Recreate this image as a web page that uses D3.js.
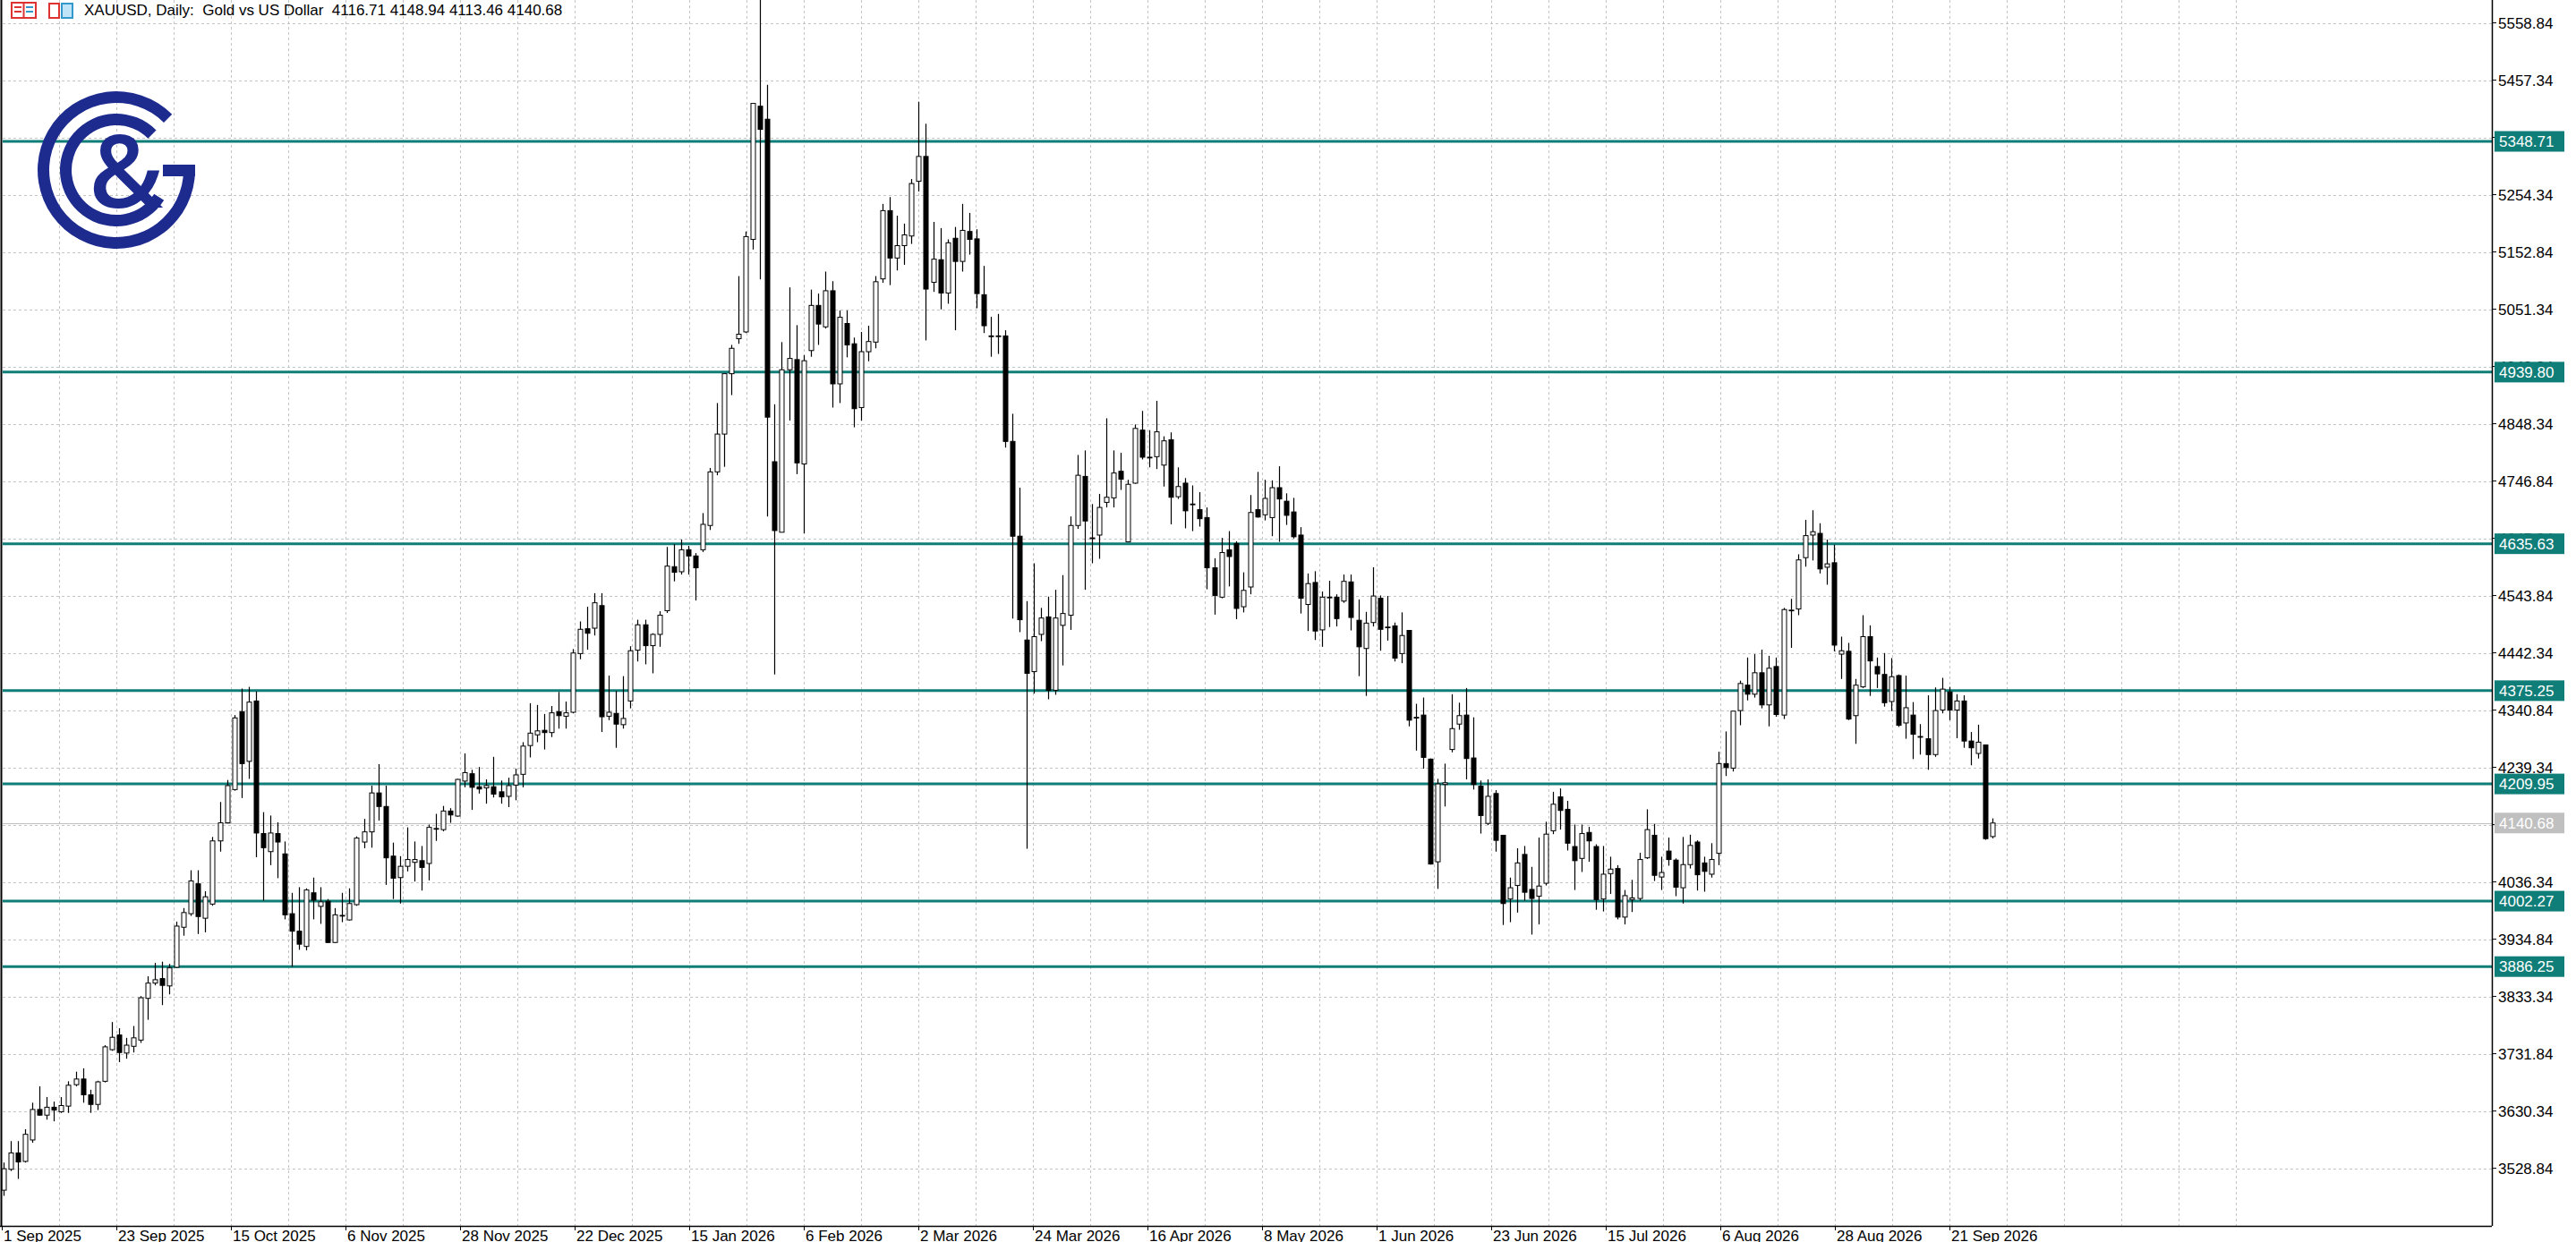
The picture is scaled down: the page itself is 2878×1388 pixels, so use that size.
<!DOCTYPE html>
<html><head><meta charset="utf-8">
<script src="https://cdnjs.cloudflare.com/ajax/libs/d3/7.8.5/d3.min.js"></script>
<style>body{margin:0;background:#fff}svg{display:block}text{font-family:"Liberation Sans",Arial,sans-serif}</style>
</head><body>
<script>
const opens=[3490,3527,3556,3541,3579,3633,3623,3637,3629,3639,3677,3687,3659,3642,3683,3739,3765,3733,3745,3756,3830,3857,3865,3852,3885,3956,3980,4033,3972,3997,4109,4141,4200,4338,4250,4357,4122,4090,4122,4086,3980,3949,3922,4017,3993,4002,3929,3976,3969,3996,4107,4125,4194,4170,4082,4044,4064,4071,4074,4069,4130,4129,4162,4153,4215,4228,4205,4203,4205,4196,4188,4208,4227,4278,4297,4305,4301,4338,4330,4337,4441,4485,4486,4526,4330,4335,4315,4357,4447,4492,4455,4475,4517,4595,4586,4625,4614,4625,4668,4763,4830,4937,4999,5011,5175,5411,5388,4781,4656,4944,4962,4777,4978,5058,5020,5084,4919,5026,4990,4877,4976,4993,5105,5226,5142,5164,5181,5278,5322,5099,5139,5080,5177,5136,5189,5176,5077,5004,5004,5004,4817,4649,4465,4409,4475,4506,4376,4491,4509,4668,4755,4646,4651,4709,4717,4764,4639,4743,4837,4789,4790,4775,4820,4719,4743,4706,4696,4682,4593,4541,4625,4636,4524,4559,4696,4687,4682,4735,4711,4692,4651,4528,4567,4483,4541,4541,4534,4568,4500,4450,4496,4539,4488,4490,4441,4482,4328,4332,4254,4072,4209,4271,4316,4332,4256,4206,4140,4193,4119,4006,4030,4085,4023,4011,4034,4127,4187,4165,4099,4078,4124,4099,4006,4051,4060,3974,4005,4007,4079,4119,4045,4091,4075,4026,4067,4107,4070,4050,4087,4246,4238,4340,4385,4369,4407,4350,4418,4332,4517,4520,4611,4651,4654,4594,4602,4440,4445,4331,4382,4471,4418,4404,4356,4402,4318,4332,4294,4290,4262,4341,4373,4341,4357,4286,4264,4279,4116.71];
const highs=[3539,3577,3577,3598,3645,3674,3655,3647,3655,3683,3700,3706,3668,3684,3747,3788,3777,3760,3781,3834,3869,3893,3895,3891,3966,3990,4057,4057,4020,4116,4178,4217,4332,4379,4382,4374,4160,4154,4142,4108,4017,4027,4025,4044,4027,4006,3990,4017,4025,4117,4148,4207,4245,4207,4106,4082,4133,4108,4100,4138,4157,4171,4167,4219,4264,4235,4240,4218,4258,4216,4221,4237,4284,4353,4350,4334,4348,4373,4356,4449,4498,4524,4548,4548,4402,4375,4401,4454,4501,4501,4477,4516,4630,4635,4643,4632,4619,4690,4770,4885,4937,4988,5110,5189,5416,5600,5449,4883,4993,5090,5023,4970,5086,5079,5118,5101,5049,5049,5001,5011,5022,5110,5238,5250,5217,5203,5282,5419,5380,5206,5195,5175,5197,5238,5222,5193,5128,5038,5043,5014,4866,4735,4534,4601,4522,4542,4554,4580,4684,4793,4801,4706,4724,4858,4801,4797,4749,4847,4871,4837,4889,4826,4833,4771,4752,4739,4727,4700,4610,4646,4658,4640,4585,4722,4763,4749,4748,4773,4725,4717,4665,4583,4587,4551,4570,4546,4581,4581,4537,4515,4594,4544,4543,4496,4514,4482,4352,4363,4255,4219,4246,4369,4354,4380,4328,4216,4218,4199,4119,4044,4096,4100,4063,4115,4143,4196,4202,4180,4138,4138,4134,4103,4100,4081,4066,4022,4040,4088,4165,4139,4081,4115,4078,4116,4120,4110,4081,4105,4267,4303,4339,4393,4434,4440,4448,4437,4434,4522,4538,4617,4678,4695,4672,4643,4634,4471,4460,4396,4509,4491,4434,4442,4433,4404,4402,4355,4316,4367,4381,4398,4382,4369,4367,4302,4315,4280,4148.94];
const lows=[3480,3524,3510,3539,3574,3622,3615,3612,3627,3627,3674,3645,3627,3632,3681,3737,3717,3723,3734,3751,3792,3853,3818,3837,3884,3941,3976,3944,3947,3994,4090,4140,4198,4185,4219,4080,4003,4066,4043,3970,3886,3916,3915,3970,3962,3928,3928,3965,3968,3994,4096,4097,4145,4031,4006,3998,4055,4037,4021,4039,4109,4126,4141,4152,4204,4164,4193,4175,4186,4175,4169,4181,4204,4257,4284,4271,4293,4308,4308,4335,4431,4448,4473,4302,4323,4274,4308,4344,4427,4422,4406,4453,4513,4569,4581,4581,4535,4621,4660,4757,4772,4899,4990,5009,5157,5104,4684,4404,4656,4854,4759,4654,4967,4988,5017,4877,4885,4966,4842,4854,4959,4982,5098,5094,5120,5130,5167,5260,4996,5082,5051,5061,5014,5118,5148,5053,5009,4967,4972,4806,4503,4479,4095,4370,4463,4360,4368,4420,4483,4662,4554,4601,4609,4700,4700,4731,4639,4742,4785,4771,4768,4737,4670,4715,4663,4658,4666,4555,4510,4539,4560,4502,4514,4546,4682,4677,4649,4639,4669,4645,4512,4481,4465,4453,4488,4489,4531,4482,4401,4366,4489,4446,4464,4427,4424,4312,4269,4237,4067,4024,4170,4266,4306,4218,4200,4122,4137,4090,3960,3965,3982,4003,3943,3961,4030,4121,4129,4092,4022,4054,4072,3987,3984,4015,3970,3961,3983,4003,4077,4038,4022,4065,4011,3998,4060,4021,4019,4044,4066,4224,4232,4314,4358,4363,4344,4312,4329,4325,4451,4509,4595,4606,4583,4563,4445,4396,4323,4281,4380,4366,4380,4347,4339,4311,4290,4254,4262,4235,4258,4335,4323,4291,4274,4243,4255,4111,4113.46];
const closes=[3528,3556,3540,3589,3633,3623,3637,3632,3640,3676,3687,3659,3642,3682,3744,3761,3734,3747,3760,3831,3857,3863,3853,3884,3958,3982,4038,3975,4010,4109,4141,4207,4327,4246,4355,4123,4097,4123,4107,3978,3949,3926,4022,4004,4001,3929,3978,3977,3998,4114,4125,4194,4170,4079,4043,4064,4076,4076,4062,4133,4131,4162,4155,4218,4230,4204,4201,4207,4192,4187,4207,4226,4277,4300,4304,4301,4336,4331,4336,4442,4484,4477,4531,4329,4337,4316,4326,4446,4492,4455,4475,4509,4596,4585,4625,4614,4593,4670,4763,4830,4937,4982,5007,5180,5416,5370,4860,4659,4944,4964,4779,4960,5058,5025,5084,4919,5037,4988,4875,4976,4994,5100,5226,5142,5164,5183,5274,5322,5087,5140,5080,5169,5136,5191,5175,5079,5022,5003,5004,4817,4649,4501,4406,4471,4504,4376,4504,4512,4668,4757,4676,4646,4700,4718,4761,4750,4741,4840,4789,4789,4834,4818,4718,4737,4694,4706,4680,4593,4544,4620,4613,4521,4553,4691,4683,4716,4735,4715,4686,4648,4539,4565,4481,4541,4541,4503,4569,4505,4453,4495,4543,4484,4488,4433,4473,4323,4328,4257,4068,4210,4212,4308,4331,4255,4209,4154,4188,4110,3998,4026,4070,4018,4007,4029,4121,4174,4163,4105,4074,4122,4109,4005,4050,4059,3974,4012,4008,4076,4129,4048,4053,4076,4027,4067,4101,4049,4055,4076,4246,4239,4339,4388,4369,4407,4350,4415,4333,4519,4518,4607,4650,4657,4591,4600,4456,4446,4325,4385,4471,4428,4405,4354,4400,4314,4345,4298,4293,4262,4340,4378,4341,4357,4286,4274,4284,4113,4140.68];
const priceTicks=["5558.84","5457.34","5355.84","5254.34","5152.84","5051.34","4949.84","4848.34","4746.84","4645.34","4543.84","4442.34","4340.84","4239.34","4137.84","4036.34","3934.84","3833.34","3731.84","3630.34","3528.84"];
const levels=["5348.71","4939.80","4635.63","4375.25","4209.95","4002.27","3886.25"];
const lastPrice="4140.68";
const dateLabels=["1 Sep 2025","23 Sep 2025","15 Oct 2025","6 Nov 2025","28 Nov 2025","22 Dec 2025","15 Jan 2026","6 Feb 2026","2 Mar 2026","24 Mar 2026","16 Apr 2026","8 May 2026","1 Jun 2026","23 Jun 2026","15 Jul 2026","6 Aug 2026","28 Aug 2026","21 Sep 2026"];
const header="XAUUSD, Daily:  Gold vs US Dollar  4116.71 4148.94 4113.46 4140.68";

const W=2878,H=1388,axisX=2784,axisY=1370;
const svg=d3.select("body").append("svg").attr("width",W).attr("height",H);
const y=d3.scaleLinear().domain([3528.84,5558.84]).range([1305.6,25.5]);
const x=d3.scaleLinear().domain([0,closes.length-1]).range([4,2226]);
const xd=d3.scalePoint().domain(dateLabels).range([2,2+17*128]);
const half=64;

// grid
const g=svg.append("g");
g.selectAll(".hg").data(priceTicks).join("line").attr("x1",3).attr("x2",axisX)
 .attr("y1",d=>Math.round(y(+d))+0.5).attr("y2",d=>Math.round(y(+d))+0.5)
 .attr("stroke","#c4c4c4").attr("stroke-dasharray","3,3");
const vg=[];dateLabels.forEach(d=>{vg.push(xd(d));vg.push(xd(d)+half);});
vg.push(xd(dateLabels[17])+2*half);vg.push(xd(dateLabels[17])+3*half);vg.push(xd(dateLabels[17])+4*half);vg.push(xd(dateLabels[17])+5*half);
g.selectAll(".vg").data(vg.filter(v=>v>5&&v<axisX-2)).join("line").attr("y1",0).attr("y2",axisY)
 .attr("x1",d=>Math.round(d)+0.5).attr("x2",d=>Math.round(d)+0.5)
 .attr("stroke","#c4c4c4").attr("stroke-dasharray","3,3");

// bid line
svg.append("line").attr("x1",3).attr("x2",axisX).attr("y1",Math.round(y(+lastPrice))+0.5).attr("y2",Math.round(y(+lastPrice))+0.5).attr("stroke","#c0c0c0");

// levels
svg.selectAll(".lv").data(levels).join("line").attr("x1",3).attr("x2",axisX)
 .attr("y1",d=>y(+d)).attr("y2",d=>y(+d)).attr("stroke","#0f7d78").attr("stroke-width",3);

// candles
const idx=d3.range(closes.length);
const cg=svg.append("g");
cg.selectAll(".wk").data(idx).join("line")
 .attr("x1",i=>Math.round(x(i))+0.5).attr("x2",i=>Math.round(x(i))+0.5)
 .attr("y1",i=>y(highs[i])).attr("y2",i=>y(lows[i])).attr("stroke","#000").attr("stroke-width",1.2);
cg.selectAll(".bd").data(idx).join("rect")
 .attr("x",i=>Math.round(x(i))-2).attr("width",5)
 .attr("y",i=>y(Math.max(opens[i],closes[i])))
 .attr("height",i=>Math.max(0.8,Math.abs(y(opens[i])-y(closes[i]))))
 .attr("fill",i=>closes[i]>=opens[i]?"#fff":"#000").attr("stroke","#000").attr("stroke-width",1);

// axes lines
svg.append("line").attr("x1",axisX+0.5).attr("x2",axisX+0.5).attr("y1",0).attr("y2",axisY).attr("stroke","#000").attr("stroke-width",1.5);
svg.append("line").attr("x1",0).attr("x2",axisX).attr("y1",axisY+0.5).attr("y2",axisY+0.5).attr("stroke","#000").attr("stroke-width",1.5);
svg.append("line").attr("x1",1.5).attr("x2",1.5).attr("y1",0).attr("y2",axisY).attr("stroke","#000").attr("stroke-width",2);

// y tick labels
const yl=svg.append("g");
yl.selectAll("line").data(priceTicks).join("line").attr("x1",axisX).attr("x2",axisX+5)
 .attr("y1",d=>y(+d)).attr("y2",d=>y(+d)).attr("stroke","#000");
yl.selectAll("text").data(priceTicks).join("text").attr("x",2791).attr("y",d=>y(+d)+6)
 .attr("font-size",17).attr("fill","#000").text(d=>d);

// level boxes
const lb=svg.selectAll(".lb").data(levels).join("g");
lb.append("rect").attr("x",2787).attr("width",78).attr("y",d=>y(+d)-11.5).attr("height",23).attr("fill","#0f7d78");
lb.append("text").attr("x",2792).attr("y",d=>y(+d)+6).attr("font-size",17).attr("fill","#fff").text(d=>d);
svg.append("rect").attr("x",2787).attr("width",78).attr("y",y(+lastPrice)-11.5).attr("height",23).attr("fill","#c0c0c0");
svg.append("text").attr("x",2792).attr("y",y(+lastPrice)+6).attr("font-size",17).attr("fill","#fff").text(lastPrice);

// date labels
const xl=svg.append("g");
xl.selectAll("line").data(dateLabels).join("line").attr("x1",d=>xd(d)+0.5).attr("x2",d=>xd(d)+0.5)
 .attr("y1",axisY).attr("y2",axisY+5).attr("stroke","#000");
xl.selectAll("text").data(dateLabels).join("text").attr("x",d=>xd(d)+2).attr("y",axisY+17)
 .attr("font-size",17).attr("fill","#000").text(d=>d);

// header
const hd=svg.append("g");
hd.append("rect").attr("x",13).attr("y",3).attr("width",27).attr("height",17).attr("fill","#fff").attr("stroke","#d33").attr("stroke-width",2);
hd.append("line").attr("x1",26.5).attr("x2",26.5).attr("y1",3).attr("y2",20).attr("stroke","#d33").attr("stroke-width",2);
[8,13].forEach(v=>{hd.append("line").attr("x1",16).attr("x2",24).attr("y1",v).attr("y2",v).attr("stroke","#d33").attr("stroke-width",2);
 hd.append("line").attr("x1",29).attr("x2",37).attr("y1",v).attr("y2",v).attr("stroke","#39c").attr("stroke-width",2);});
hd.append("rect").attr("x",55).attr("y",4).attr("width",11).attr("height",16).attr("fill","#fff").attr("stroke","#d33").attr("stroke-width",2);
hd.append("rect").attr("x",69).attr("y",4).attr("width",12).attr("height",16).attr("fill","#bfe3f7").attr("stroke","#39c").attr("stroke-width",2);
hd.append("text").attr("x",94).attr("y",17).attr("font-size",17).attr("fill","#000").attr("xml:space","preserve").style("white-space","pre").text(header);

// logo
const navy="#1d2b8f";
const lg=svg.append("g").attr("transform","translate(130,190)");
lg.append("path").attr("d",d3.arc()({innerRadius:75,outerRadius:88,startAngle:Math.PI/2,endAngle:2*Math.PI+Math.PI/4})).attr("fill",navy);
lg.append("rect").attr("x",52).attr("y",-6).attr("width",36).attr("height",13).attr("fill",navy);
lg.append("path").attr("d",d3.arc()({innerRadius:50,outerRadius:63,startAngle:Math.PI*0.68,endAngle:2*Math.PI+Math.PI/4})).attr("fill",navy);
lg.append("text").attr("x",11).attr("y",42).attr("text-anchor","middle").attr("font-size",112).attr("font-weight",600)
 .style("font-family","'Open Sans','Noto Sans',sans-serif").attr("fill",navy).text("&");
</script>
</body></html>
